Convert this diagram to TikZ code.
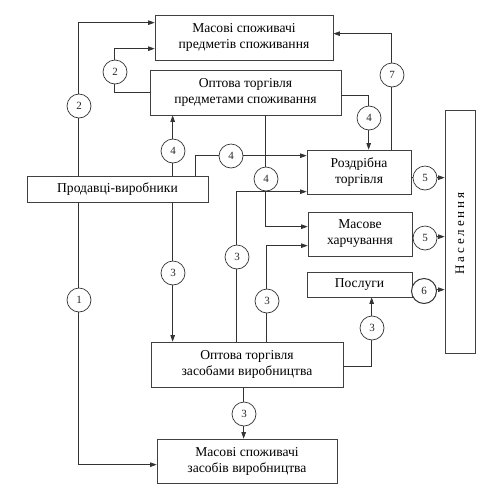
\documentclass[tikz,border=0pt]{standalone}
\usepackage{fontspec}
\setmainfont{Liberation Serif}
\usetikzlibrary{arrows.meta,calc}
\begin{document}
\begin{tikzpicture}[x=1pt,y=-1pt,
  ln/.style={draw=black!80,line width=0.7pt},
  arr/.style={ln,-{Triangle[length=6.5pt,width=4.5pt]}},
  box/.style={draw=black!75,line width=0.7pt,fill=white,rectangle,inner sep=0pt,align=center,
     font=\fontsize{13.6}{16}\selectfont,text=black},
  num/.style={draw=black!80,line width=0.7pt,fill=white,circle,minimum size=24pt,inner sep=0pt,
     font=\fontsize{11}{12}\selectfont,text=black!85}]
\useasboundingbox (0,0) rectangle (500,496);
% boxes
\node[box,minimum width=178pt,minimum height=45pt] (b1) at (244,37.5) {Масові споживачі\\предметів споживання};
\node[box,minimum width=191pt,minimum height=45pt] (b2) at (245.5,92.5) {Оптова торгівля\\предметами споживання};
\node[box,minimum width=181pt,minimum height=26pt] (b3) at (117.5,189) {Продавці-виробники};
\node[box,minimum width=104pt,minimum height=44pt] (b4) at (359,172) {Роздрібна\\торгівля};
\node[box,minimum width=104pt,minimum height=44pt] (b5) at (360,234) {Масове\\харчування};
\node[box,minimum width=105pt,minimum height=25pt] (b6) at (359.5,284.5) {Послуги};
\node[box,minimum width=30pt,minimum height=243pt] (b7) at (460,231.5) {};
\node[font=\fontsize{13}{14}\selectfont\addfontfeatures{LetterSpace=22},text=black,rotate=90] (t7) at ([yshift=-2pt]b7.center) {Населення};
\node[box,minimum width=192pt,minimum height=45pt] (b8) at (247,364.5) {Оптова торгівля\\засобами виробництва};
\node[box,minimum width=180pt,minimum height=44pt] (b9) at (247,461) {Масові споживачі\\засобів виробництва};
% connectors
\draw[arr] ([xshift=52pt]b3.north west) |- ([yshift=-8pt]b1.north west);
\draw[arr] ([yshift=-23pt]b2.north west) -- ++(-35,0) |- ([yshift=-34pt]b1.north west);
\draw[arr] ([xshift=146pt]b3.north west) -- ([xshift=23pt]b2.south west);
\draw[arr] ([xshift=169pt]b3.north west) |- ([yshift=-6pt]b4.north west);
\draw[arr] ([xshift=116pt]b2.south west) |- ([yshift=-15pt]b5.north west);
\draw[arr] ([yshift=-26pt]b2.north east) -| ([xshift=62pt]b4.north west);
\draw[arr] ([xshift=85pt]b4.north west) |- ([yshift=-19pt]b1.north east);
\coordinate (p5a) at ([yshift=-28pt]b4.north east);
\coordinate (p5b) at ([yshift=-25pt]b5.north east);
\coordinate (p6) at ([yshift=-18pt]b6.north east);
\draw[arr] (p5a) -- (p5a -| b7.west);
\draw[arr] (p5b) -- (p5b -| b7.west);
\draw[arr] (p6) -- (p6 -| b7.west);
\draw[arr] ([xshift=146pt]b3.south west) -- ([xshift=22pt]b8.north west);
\draw[arr] ([xshift=86pt]b8.north west) |- ([yshift=-42pt]b4.north west);
\draw[arr] ([xshift=116pt]b8.north west) |- ([yshift=-34pt]b5.north west);
\draw[arr] ([yshift=-25pt]b8.north east) -| ([xshift=65pt]b6.south west);
\draw[arr] ([xshift=93pt]b8.south west) -- ([xshift=87pt]b9.north west);
\draw[arr] ([xshift=52pt]b3.south west) |- ([yshift=-26pt]b9.north west);
% numbered circles
\node[num] (c2a) at (79,106) {2};
\node[num] (c2b) at (115,72) {2};
\node[num] (c4a) at (173,151) {4};
\node[num] (c4b) at (231,156) {4};
\node[num] (c4c) at (266,179) {4};
\node[num] (c4d) at (369,118) {4};
\node[num] (c7) at (392,75) {7};
\node[num] (c5a) at (425,178) {5};
\node[num] (c5b) at (425,238) {5};
\node[num,line width=1pt,minimum size=25pt] (c6) at (424,291) {6};
\node[num] (c3a) at (173,273) {3};
\node[num] (c3b) at (237,257) {3};
\node[num] (c3c) at (267,301) {3};
\node[num] (c3d) at (372,328) {3};
\node[num] (c3e) at (244,414) {3};
\node[num] (c1) at (79,300) {1};
\end{tikzpicture}
\end{document}
